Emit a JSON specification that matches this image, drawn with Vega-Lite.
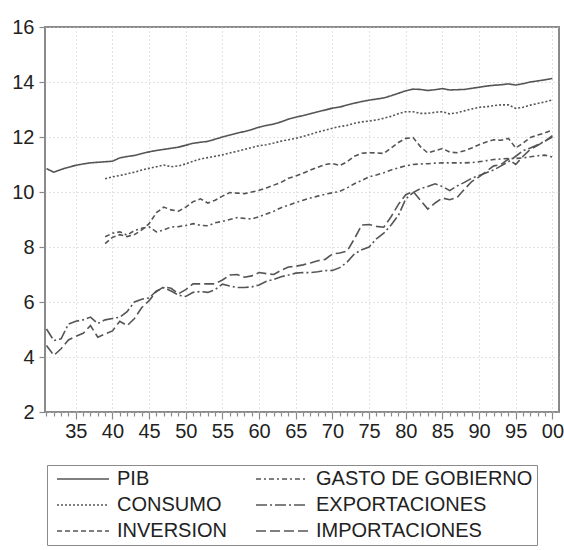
{
  "$schema": "https://vega.github.io/schema/vega-lite/v6.json",
  "autosize": {"type": "none"},
  "padding": {"left": 45, "top": 27, "right": 5, "bottom": 138},
  "width": 514,
  "height": 385,
  "background": "white",
  "config": {
    "view": {"stroke": "#8a8a8a", "strokeWidth": 2},
    "font": "Liberation Sans"
  },
  "data": {"values": [
    {"year":1931,"serie":"PIB","value":10.85},{"year":1932,"serie":"PIB","value":10.72},{"year":1933,"serie":"PIB","value":10.82},{"year":1934,"serie":"PIB","value":10.9},{"year":1935,"serie":"PIB","value":10.97},{"year":1936,"serie":"PIB","value":11.02},{"year":1937,"serie":"PIB","value":11.06},{"year":1938,"serie":"PIB","value":11.08},{"year":1939,"serie":"PIB","value":11.1},{"year":1940,"serie":"PIB","value":11.12},
    {"year":1941,"serie":"PIB","value":11.24},{"year":1942,"serie":"PIB","value":11.29},{"year":1943,"serie":"PIB","value":11.33},{"year":1944,"serie":"PIB","value":11.4},{"year":1945,"serie":"PIB","value":11.46},{"year":1946,"serie":"PIB","value":11.51},{"year":1947,"serie":"PIB","value":11.55},{"year":1948,"serie":"PIB","value":11.59},{"year":1949,"serie":"PIB","value":11.63},{"year":1950,"serie":"PIB","value":11.7},
    {"year":1951,"serie":"PIB","value":11.77},{"year":1952,"serie":"PIB","value":11.81},{"year":1953,"serie":"PIB","value":11.84},{"year":1954,"serie":"PIB","value":11.92},{"year":1955,"serie":"PIB","value":12.0},{"year":1956,"serie":"PIB","value":12.07},{"year":1957,"serie":"PIB","value":12.14},{"year":1958,"serie":"PIB","value":12.2},{"year":1959,"serie":"PIB","value":12.27},{"year":1960,"serie":"PIB","value":12.36},
    {"year":1961,"serie":"PIB","value":12.42},{"year":1962,"serie":"PIB","value":12.47},{"year":1963,"serie":"PIB","value":12.55},{"year":1964,"serie":"PIB","value":12.65},{"year":1965,"serie":"PIB","value":12.72},{"year":1966,"serie":"PIB","value":12.78},{"year":1967,"serie":"PIB","value":12.85},{"year":1968,"serie":"PIB","value":12.92},{"year":1969,"serie":"PIB","value":12.98},{"year":1970,"serie":"PIB","value":13.05},
    {"year":1971,"serie":"PIB","value":13.09},{"year":1972,"serie":"PIB","value":13.16},{"year":1973,"serie":"PIB","value":13.23},{"year":1974,"serie":"PIB","value":13.29},{"year":1975,"serie":"PIB","value":13.34},{"year":1976,"serie":"PIB","value":13.38},{"year":1977,"serie":"PIB","value":13.42},{"year":1978,"serie":"PIB","value":13.5},{"year":1979,"serie":"PIB","value":13.59},{"year":1980,"serie":"PIB","value":13.68},
    {"year":1981,"serie":"PIB","value":13.74},{"year":1982,"serie":"PIB","value":13.73},{"year":1983,"serie":"PIB","value":13.69},{"year":1984,"serie":"PIB","value":13.72},{"year":1985,"serie":"PIB","value":13.76},{"year":1986,"serie":"PIB","value":13.71},{"year":1987,"serie":"PIB","value":13.72},{"year":1988,"serie":"PIB","value":13.73},{"year":1989,"serie":"PIB","value":13.77},{"year":1990,"serie":"PIB","value":13.81},
    {"year":1991,"serie":"PIB","value":13.85},{"year":1992,"serie":"PIB","value":13.88},{"year":1993,"serie":"PIB","value":13.9},{"year":1994,"serie":"PIB","value":13.93},{"year":1995,"serie":"PIB","value":13.89},{"year":1996,"serie":"PIB","value":13.94},{"year":1997,"serie":"PIB","value":14.0},{"year":1998,"serie":"PIB","value":14.04},{"year":1999,"serie":"PIB","value":14.08},{"year":2000,"serie":"PIB","value":14.13},

    {"year":1939,"serie":"CONSUMO","value":10.48},{"year":1940,"serie":"CONSUMO","value":10.55},
    {"year":1941,"serie":"CONSUMO","value":10.6},{"year":1942,"serie":"CONSUMO","value":10.66},{"year":1943,"serie":"CONSUMO","value":10.72},{"year":1944,"serie":"CONSUMO","value":10.8},{"year":1945,"serie":"CONSUMO","value":10.86},{"year":1946,"serie":"CONSUMO","value":10.92},{"year":1947,"serie":"CONSUMO","value":10.98},{"year":1948,"serie":"CONSUMO","value":10.92},{"year":1949,"serie":"CONSUMO","value":10.95},{"year":1950,"serie":"CONSUMO","value":11.02},
    {"year":1951,"serie":"CONSUMO","value":11.12},{"year":1952,"serie":"CONSUMO","value":11.2},{"year":1953,"serie":"CONSUMO","value":11.25},{"year":1954,"serie":"CONSUMO","value":11.3},{"year":1955,"serie":"CONSUMO","value":11.35},{"year":1956,"serie":"CONSUMO","value":11.42},{"year":1957,"serie":"CONSUMO","value":11.48},{"year":1958,"serie":"CONSUMO","value":11.55},{"year":1959,"serie":"CONSUMO","value":11.62},{"year":1960,"serie":"CONSUMO","value":11.68},
    {"year":1961,"serie":"CONSUMO","value":11.72},{"year":1962,"serie":"CONSUMO","value":11.78},{"year":1963,"serie":"CONSUMO","value":11.85},{"year":1964,"serie":"CONSUMO","value":11.9},{"year":1965,"serie":"CONSUMO","value":11.95},{"year":1966,"serie":"CONSUMO","value":12.02},{"year":1967,"serie":"CONSUMO","value":12.1},{"year":1968,"serie":"CONSUMO","value":12.18},{"year":1969,"serie":"CONSUMO","value":12.25},{"year":1970,"serie":"CONSUMO","value":12.32},
    {"year":1971,"serie":"CONSUMO","value":12.38},{"year":1972,"serie":"CONSUMO","value":12.42},{"year":1973,"serie":"CONSUMO","value":12.5},{"year":1974,"serie":"CONSUMO","value":12.55},{"year":1975,"serie":"CONSUMO","value":12.58},{"year":1976,"serie":"CONSUMO","value":12.62},{"year":1977,"serie":"CONSUMO","value":12.68},{"year":1978,"serie":"CONSUMO","value":12.75},{"year":1979,"serie":"CONSUMO","value":12.85},{"year":1980,"serie":"CONSUMO","value":12.92},
    {"year":1981,"serie":"CONSUMO","value":12.92},{"year":1982,"serie":"CONSUMO","value":12.86},{"year":1983,"serie":"CONSUMO","value":12.86},{"year":1984,"serie":"CONSUMO","value":12.9},{"year":1985,"serie":"CONSUMO","value":12.92},{"year":1986,"serie":"CONSUMO","value":12.84},{"year":1987,"serie":"CONSUMO","value":12.88},{"year":1988,"serie":"CONSUMO","value":12.95},{"year":1989,"serie":"CONSUMO","value":13.02},{"year":1990,"serie":"CONSUMO","value":13.08},
    {"year":1991,"serie":"CONSUMO","value":13.1},{"year":1992,"serie":"CONSUMO","value":13.14},{"year":1993,"serie":"CONSUMO","value":13.17},{"year":1994,"serie":"CONSUMO","value":13.17},{"year":1995,"serie":"CONSUMO","value":13.04},{"year":1996,"serie":"CONSUMO","value":13.08},{"year":1997,"serie":"CONSUMO","value":13.16},{"year":1998,"serie":"CONSUMO","value":13.22},{"year":1999,"serie":"CONSUMO","value":13.28},{"year":2000,"serie":"CONSUMO","value":13.35},

    {"year":1939,"serie":"INVERSION","value":8.12},{"year":1940,"serie":"INVERSION","value":8.35},
    {"year":1941,"serie":"INVERSION","value":8.45},{"year":1942,"serie":"INVERSION","value":8.38},{"year":1943,"serie":"INVERSION","value":8.45},{"year":1944,"serie":"INVERSION","value":8.62},{"year":1945,"serie":"INVERSION","value":8.85},{"year":1946,"serie":"INVERSION","value":9.25},{"year":1947,"serie":"INVERSION","value":9.45},{"year":1948,"serie":"INVERSION","value":9.35},{"year":1949,"serie":"INVERSION","value":9.3},{"year":1950,"serie":"INVERSION","value":9.45},
    {"year":1951,"serie":"INVERSION","value":9.65},{"year":1952,"serie":"INVERSION","value":9.75},{"year":1953,"serie":"INVERSION","value":9.6},{"year":1954,"serie":"INVERSION","value":9.7},{"year":1955,"serie":"INVERSION","value":9.85},{"year":1956,"serie":"INVERSION","value":9.98},{"year":1957,"serie":"INVERSION","value":9.96},{"year":1958,"serie":"INVERSION","value":9.94},{"year":1959,"serie":"INVERSION","value":10.0},{"year":1960,"serie":"INVERSION","value":10.06},
    {"year":1961,"serie":"INVERSION","value":10.15},{"year":1962,"serie":"INVERSION","value":10.25},{"year":1963,"serie":"INVERSION","value":10.35},{"year":1964,"serie":"INVERSION","value":10.5},{"year":1965,"serie":"INVERSION","value":10.58},{"year":1966,"serie":"INVERSION","value":10.68},{"year":1967,"serie":"INVERSION","value":10.8},{"year":1968,"serie":"INVERSION","value":10.9},{"year":1969,"serie":"INVERSION","value":11.0},{"year":1970,"serie":"INVERSION","value":11.04},
    {"year":1971,"serie":"INVERSION","value":10.96},{"year":1972,"serie":"INVERSION","value":11.1},{"year":1973,"serie":"INVERSION","value":11.3},{"year":1974,"serie":"INVERSION","value":11.41},{"year":1975,"serie":"INVERSION","value":11.43},{"year":1976,"serie":"INVERSION","value":11.42},{"year":1977,"serie":"INVERSION","value":11.4},{"year":1978,"serie":"INVERSION","value":11.6},{"year":1979,"serie":"INVERSION","value":11.8},{"year":1980,"serie":"INVERSION","value":11.95},
    {"year":1981,"serie":"INVERSION","value":11.98},{"year":1982,"serie":"INVERSION","value":11.65},{"year":1983,"serie":"INVERSION","value":11.42},{"year":1984,"serie":"INVERSION","value":11.5},{"year":1985,"serie":"INVERSION","value":11.58},{"year":1986,"serie":"INVERSION","value":11.45},{"year":1987,"serie":"INVERSION","value":11.43},{"year":1988,"serie":"INVERSION","value":11.5},{"year":1989,"serie":"INVERSION","value":11.6},{"year":1990,"serie":"INVERSION","value":11.72},
    {"year":1991,"serie":"INVERSION","value":11.82},{"year":1992,"serie":"INVERSION","value":11.9},{"year":1993,"serie":"INVERSION","value":11.88},{"year":1994,"serie":"INVERSION","value":11.95},{"year":1995,"serie":"INVERSION","value":11.6},{"year":1996,"serie":"INVERSION","value":11.78},{"year":1997,"serie":"INVERSION","value":11.98},{"year":1998,"serie":"INVERSION","value":12.07},{"year":1999,"serie":"INVERSION","value":12.15},{"year":2000,"serie":"INVERSION","value":12.25},

    {"year":1939,"serie":"GASTO DE GOBIERNO","value":8.37},{"year":1940,"serie":"GASTO DE GOBIERNO","value":8.5},
    {"year":1941,"serie":"GASTO DE GOBIERNO","value":8.55},{"year":1942,"serie":"GASTO DE GOBIERNO","value":8.43},{"year":1943,"serie":"GASTO DE GOBIERNO","value":8.6},{"year":1944,"serie":"GASTO DE GOBIERNO","value":8.68},{"year":1945,"serie":"GASTO DE GOBIERNO","value":8.73},{"year":1946,"serie":"GASTO DE GOBIERNO","value":8.55},{"year":1947,"serie":"GASTO DE GOBIERNO","value":8.62},{"year":1948,"serie":"GASTO DE GOBIERNO","value":8.73},{"year":1949,"serie":"GASTO DE GOBIERNO","value":8.74},{"year":1950,"serie":"GASTO DE GOBIERNO","value":8.78},
    {"year":1951,"serie":"GASTO DE GOBIERNO","value":8.85},{"year":1952,"serie":"GASTO DE GOBIERNO","value":8.79},{"year":1953,"serie":"GASTO DE GOBIERNO","value":8.77},{"year":1954,"serie":"GASTO DE GOBIERNO","value":8.88},{"year":1955,"serie":"GASTO DE GOBIERNO","value":8.93},{"year":1956,"serie":"GASTO DE GOBIERNO","value":9.0},{"year":1957,"serie":"GASTO DE GOBIERNO","value":9.07},{"year":1958,"serie":"GASTO DE GOBIERNO","value":9.04},{"year":1959,"serie":"GASTO DE GOBIERNO","value":9.02},{"year":1960,"serie":"GASTO DE GOBIERNO","value":9.1},
    {"year":1961,"serie":"GASTO DE GOBIERNO","value":9.2},{"year":1962,"serie":"GASTO DE GOBIERNO","value":9.3},{"year":1963,"serie":"GASTO DE GOBIERNO","value":9.43},{"year":1964,"serie":"GASTO DE GOBIERNO","value":9.52},{"year":1965,"serie":"GASTO DE GOBIERNO","value":9.62},{"year":1966,"serie":"GASTO DE GOBIERNO","value":9.7},{"year":1967,"serie":"GASTO DE GOBIERNO","value":9.78},{"year":1968,"serie":"GASTO DE GOBIERNO","value":9.85},{"year":1969,"serie":"GASTO DE GOBIERNO","value":9.92},{"year":1970,"serie":"GASTO DE GOBIERNO","value":9.97},
    {"year":1971,"serie":"GASTO DE GOBIERNO","value":10.02},{"year":1972,"serie":"GASTO DE GOBIERNO","value":10.15},{"year":1973,"serie":"GASTO DE GOBIERNO","value":10.3},{"year":1974,"serie":"GASTO DE GOBIERNO","value":10.42},{"year":1975,"serie":"GASTO DE GOBIERNO","value":10.55},{"year":1976,"serie":"GASTO DE GOBIERNO","value":10.62},{"year":1977,"serie":"GASTO DE GOBIERNO","value":10.7},{"year":1978,"serie":"GASTO DE GOBIERNO","value":10.8},{"year":1979,"serie":"GASTO DE GOBIERNO","value":10.88},{"year":1980,"serie":"GASTO DE GOBIERNO","value":10.95},
    {"year":1981,"serie":"GASTO DE GOBIERNO","value":11.0},{"year":1982,"serie":"GASTO DE GOBIERNO","value":11.02},{"year":1983,"serie":"GASTO DE GOBIERNO","value":11.03},{"year":1984,"serie":"GASTO DE GOBIERNO","value":11.05},{"year":1985,"serie":"GASTO DE GOBIERNO","value":11.06},{"year":1986,"serie":"GASTO DE GOBIERNO","value":11.06},{"year":1987,"serie":"GASTO DE GOBIERNO","value":11.06},{"year":1988,"serie":"GASTO DE GOBIERNO","value":11.06},{"year":1989,"serie":"GASTO DE GOBIERNO","value":11.07},{"year":1990,"serie":"GASTO DE GOBIERNO","value":11.1},
    {"year":1991,"serie":"GASTO DE GOBIERNO","value":11.14},{"year":1992,"serie":"GASTO DE GOBIERNO","value":11.18},{"year":1993,"serie":"GASTO DE GOBIERNO","value":11.2},{"year":1994,"serie":"GASTO DE GOBIERNO","value":11.22},{"year":1995,"serie":"GASTO DE GOBIERNO","value":11.22},{"year":1996,"serie":"GASTO DE GOBIERNO","value":11.24},{"year":1997,"serie":"GASTO DE GOBIERNO","value":11.28},{"year":1998,"serie":"GASTO DE GOBIERNO","value":11.32},{"year":1999,"serie":"GASTO DE GOBIERNO","value":11.34},{"year":2000,"serie":"GASTO DE GOBIERNO","value":11.27},

    {"year":1931,"serie":"EXPORTACIONES","value":5.02},{"year":1932,"serie":"EXPORTACIONES","value":4.6},{"year":1933,"serie":"EXPORTACIONES","value":4.66},{"year":1934,"serie":"EXPORTACIONES","value":5.2},{"year":1935,"serie":"EXPORTACIONES","value":5.3},{"year":1936,"serie":"EXPORTACIONES","value":5.35},{"year":1937,"serie":"EXPORTACIONES","value":5.45},{"year":1938,"serie":"EXPORTACIONES","value":5.22},{"year":1939,"serie":"EXPORTACIONES","value":5.35},{"year":1940,"serie":"EXPORTACIONES","value":5.4},
    {"year":1941,"serie":"EXPORTACIONES","value":5.45},{"year":1942,"serie":"EXPORTACIONES","value":5.65},{"year":1943,"serie":"EXPORTACIONES","value":6.0},{"year":1944,"serie":"EXPORTACIONES","value":6.1},{"year":1945,"serie":"EXPORTACIONES","value":6.15},{"year":1946,"serie":"EXPORTACIONES","value":6.4},{"year":1947,"serie":"EXPORTACIONES","value":6.52},{"year":1948,"serie":"EXPORTACIONES","value":6.4},{"year":1949,"serie":"EXPORTACIONES","value":6.25},{"year":1950,"serie":"EXPORTACIONES","value":6.2},
    {"year":1951,"serie":"EXPORTACIONES","value":6.35},{"year":1952,"serie":"EXPORTACIONES","value":6.38},{"year":1953,"serie":"EXPORTACIONES","value":6.35},{"year":1954,"serie":"EXPORTACIONES","value":6.45},{"year":1955,"serie":"EXPORTACIONES","value":6.65},{"year":1956,"serie":"EXPORTACIONES","value":6.58},{"year":1957,"serie":"EXPORTACIONES","value":6.53},{"year":1958,"serie":"EXPORTACIONES","value":6.53},{"year":1959,"serie":"EXPORTACIONES","value":6.55},{"year":1960,"serie":"EXPORTACIONES","value":6.62},
    {"year":1961,"serie":"EXPORTACIONES","value":6.75},{"year":1962,"serie":"EXPORTACIONES","value":6.82},{"year":1963,"serie":"EXPORTACIONES","value":6.92},{"year":1964,"serie":"EXPORTACIONES","value":6.98},{"year":1965,"serie":"EXPORTACIONES","value":7.05},{"year":1966,"serie":"EXPORTACIONES","value":7.07},{"year":1967,"serie":"EXPORTACIONES","value":7.07},{"year":1968,"serie":"EXPORTACIONES","value":7.1},{"year":1969,"serie":"EXPORTACIONES","value":7.14},{"year":1970,"serie":"EXPORTACIONES","value":7.15},
    {"year":1971,"serie":"EXPORTACIONES","value":7.25},{"year":1972,"serie":"EXPORTACIONES","value":7.45},{"year":1973,"serie":"EXPORTACIONES","value":7.75},{"year":1974,"serie":"EXPORTACIONES","value":7.9},{"year":1975,"serie":"EXPORTACIONES","value":8.0},{"year":1976,"serie":"EXPORTACIONES","value":8.3},{"year":1977,"serie":"EXPORTACIONES","value":8.5},{"year":1978,"serie":"EXPORTACIONES","value":8.8},{"year":1979,"serie":"EXPORTACIONES","value":9.15},{"year":1980,"serie":"EXPORTACIONES","value":9.75},
    {"year":1981,"serie":"EXPORTACIONES","value":9.98},{"year":1982,"serie":"EXPORTACIONES","value":10.12},{"year":1983,"serie":"EXPORTACIONES","value":10.2},{"year":1984,"serie":"EXPORTACIONES","value":10.3},{"year":1985,"serie":"EXPORTACIONES","value":10.2},{"year":1986,"serie":"EXPORTACIONES","value":10.05},{"year":1987,"serie":"EXPORTACIONES","value":10.22},{"year":1988,"serie":"EXPORTACIONES","value":10.35},{"year":1989,"serie":"EXPORTACIONES","value":10.5},{"year":1990,"serie":"EXPORTACIONES","value":10.6},
    {"year":1991,"serie":"EXPORTACIONES","value":10.7},{"year":1992,"serie":"EXPORTACIONES","value":10.8},{"year":1993,"serie":"EXPORTACIONES","value":10.95},{"year":1994,"serie":"EXPORTACIONES","value":11.1},{"year":1995,"serie":"EXPORTACIONES","value":11.3},{"year":1996,"serie":"EXPORTACIONES","value":11.5},{"year":1997,"serie":"EXPORTACIONES","value":11.6},{"year":1998,"serie":"EXPORTACIONES","value":11.72},{"year":1999,"serie":"EXPORTACIONES","value":11.85},{"year":2000,"serie":"EXPORTACIONES","value":12.0},

    {"year":1931,"serie":"IMPORTACIONES","value":4.42},{"year":1932,"serie":"IMPORTACIONES","value":4.06},{"year":1933,"serie":"IMPORTACIONES","value":4.3},{"year":1934,"serie":"IMPORTACIONES","value":4.62},{"year":1935,"serie":"IMPORTACIONES","value":4.75},{"year":1936,"serie":"IMPORTACIONES","value":4.86},{"year":1937,"serie":"IMPORTACIONES","value":5.14},{"year":1938,"serie":"IMPORTACIONES","value":4.72},{"year":1939,"serie":"IMPORTACIONES","value":4.84},{"year":1940,"serie":"IMPORTACIONES","value":4.95},
    {"year":1941,"serie":"IMPORTACIONES","value":5.3},{"year":1942,"serie":"IMPORTACIONES","value":5.14},{"year":1943,"serie":"IMPORTACIONES","value":5.4},{"year":1944,"serie":"IMPORTACIONES","value":5.8},{"year":1945,"serie":"IMPORTACIONES","value":6.05},{"year":1946,"serie":"IMPORTACIONES","value":6.38},{"year":1947,"serie":"IMPORTACIONES","value":6.55},{"year":1948,"serie":"IMPORTACIONES","value":6.5},{"year":1949,"serie":"IMPORTACIONES","value":6.3},{"year":1950,"serie":"IMPORTACIONES","value":6.45},
    {"year":1951,"serie":"IMPORTACIONES","value":6.66},{"year":1952,"serie":"IMPORTACIONES","value":6.66},{"year":1953,"serie":"IMPORTACIONES","value":6.66},{"year":1954,"serie":"IMPORTACIONES","value":6.66},{"year":1955,"serie":"IMPORTACIONES","value":6.8},{"year":1956,"serie":"IMPORTACIONES","value":6.98},{"year":1957,"serie":"IMPORTACIONES","value":7.0},{"year":1958,"serie":"IMPORTACIONES","value":6.9},{"year":1959,"serie":"IMPORTACIONES","value":6.95},{"year":1960,"serie":"IMPORTACIONES","value":7.07},
    {"year":1961,"serie":"IMPORTACIONES","value":7.03},{"year":1962,"serie":"IMPORTACIONES","value":7.0},{"year":1963,"serie":"IMPORTACIONES","value":7.15},{"year":1964,"serie":"IMPORTACIONES","value":7.27},{"year":1965,"serie":"IMPORTACIONES","value":7.3},{"year":1966,"serie":"IMPORTACIONES","value":7.35},{"year":1967,"serie":"IMPORTACIONES","value":7.42},{"year":1968,"serie":"IMPORTACIONES","value":7.5},{"year":1969,"serie":"IMPORTACIONES","value":7.55},{"year":1970,"serie":"IMPORTACIONES","value":7.75},
    {"year":1971,"serie":"IMPORTACIONES","value":7.78},{"year":1972,"serie":"IMPORTACIONES","value":7.85},{"year":1973,"serie":"IMPORTACIONES","value":8.3},{"year":1974,"serie":"IMPORTACIONES","value":8.8},{"year":1975,"serie":"IMPORTACIONES","value":8.82},{"year":1976,"serie":"IMPORTACIONES","value":8.75},{"year":1977,"serie":"IMPORTACIONES","value":8.72},{"year":1978,"serie":"IMPORTACIONES","value":9.1},{"year":1979,"serie":"IMPORTACIONES","value":9.55},{"year":1980,"serie":"IMPORTACIONES","value":9.9},
    {"year":1981,"serie":"IMPORTACIONES","value":10.02},{"year":1982,"serie":"IMPORTACIONES","value":9.7},{"year":1983,"serie":"IMPORTACIONES","value":9.38},{"year":1984,"serie":"IMPORTACIONES","value":9.6},{"year":1985,"serie":"IMPORTACIONES","value":9.78},{"year":1986,"serie":"IMPORTACIONES","value":9.72},{"year":1987,"serie":"IMPORTACIONES","value":9.8},{"year":1988,"serie":"IMPORTACIONES","value":10.1},{"year":1989,"serie":"IMPORTACIONES","value":10.38},{"year":1990,"serie":"IMPORTACIONES","value":10.55},
    {"year":1991,"serie":"IMPORTACIONES","value":10.75},{"year":1992,"serie":"IMPORTACIONES","value":10.95},{"year":1993,"serie":"IMPORTACIONES","value":11.0},{"year":1994,"serie":"IMPORTACIONES","value":11.2},{"year":1995,"serie":"IMPORTACIONES","value":11.0},{"year":1996,"serie":"IMPORTACIONES","value":11.3},{"year":1997,"serie":"IMPORTACIONES","value":11.55},{"year":1998,"serie":"IMPORTACIONES","value":11.7},{"year":1999,"serie":"IMPORTACIONES","value":11.85},{"year":2000,"serie":"IMPORTACIONES","value":12.05}
  ]},
  "mark": {"type": "line", "color": "#555555", "strokeWidth": 1.6, "clip": true},
  "encoding": {
    "x": {
      "field": "year", "type": "quantitative",
      "scale": {"domain": [1930.8, 2000.9], "nice": false, "zero": false},
      "axis": {
        "title": null,
        "values": [1931,1932,1933,1934,1935,1936,1937,1938,1939,1940,1941,1942,1943,1944,1945,1946,1947,1948,1949,1950,1951,1952,1953,1954,1955,1956,1957,1958,1959,1960,1961,1962,1963,1964,1965,1966,1967,1968,1969,1970,1971,1972,1973,1974,1975,1976,1977,1978,1979,1980,1981,1982,1983,1984,1985,1986,1987,1988,1989,1990,1991,1992,1993,1994,1995,1996,1997,1998,1999,2000],
        "labelExpr": "datum.value % 5 === 0 ? slice('0' + (datum.value % 100), -2) : ''",
        "labelOverlap": false,
        "labelFlush": false,
        "labelFont": "Liberation Sans",
        "labelFontSize": 20,
        "labelColor": "#222222",
        "labelPadding": 2,
        "domain": false,
        "tickColor": "#8a8a8a",
        "tickWidth": 1.2,
        "tickSize": {"condition": {"test": "datum.value % 5 === 0", "value": 7}, "value": 4},
        "grid": true,
        "gridColor": "#c4c4c4",
        "gridDash": [1, 3],
        "gridWidth": 1,
        "gridOpacity": {"condition": {"test": "datum.value % 5 === 0", "value": 1}, "value": 0}
      }
    },
    "y": {
      "field": "value", "type": "quantitative",
      "scale": {"domain": [2, 16], "nice": false, "zero": false},
      "axis": {
        "title": null,
        "values": [2, 4, 6, 8, 10, 12, 14, 16],
        "labelFont": "Liberation Sans",
        "labelFontSize": 20,
        "labelColor": "#222222",
        "labelPadding": 5,
        "domain": false,
        "tickColor": "#8a8a8a",
        "tickWidth": 1.2,
        "tickSize": 6,
        "grid": true,
        "gridColor": "#c4c4c4",
        "gridDash": [1, 3],
        "gridWidth": 1
      }
    },
    "strokeDash": {
      "field": "serie", "type": "nominal",
      "scale": {
        "domain": ["PIB", "CONSUMO", "INVERSION", "GASTO DE GOBIERNO", "EXPORTACIONES", "IMPORTACIONES"],
        "range": [[1, 0], [2, 2], [5, 3], [5, 3, 2, 3], [11, 3, 2, 3], [10, 4]]
      },
      "legend": {
        "title": null,
        "orient": "none",
        "legendX": 2,
        "legendY": 438,
        "columns": 2,
        "columnPadding": 22,
        "rowPadding": 6,
        "padding": 4,
        "strokeColor": "#8a8a8a",
        "fillColor": "white",
        "symbolType": "M-13,0H13",
        "symbolSize": 16,
        "symbolOffset": 22,
        "symbolStrokeColor": "#555555",
        "symbolStrokeWidth": 1.5,
        "symbolFillColor": "transparent",
        "labelOffset": 24,
        "labelFont": "Liberation Sans",
        "labelFontSize": 20,
        "labelColor": "#222222",
        "labelLimit": 400
      }
    }
  }
}
